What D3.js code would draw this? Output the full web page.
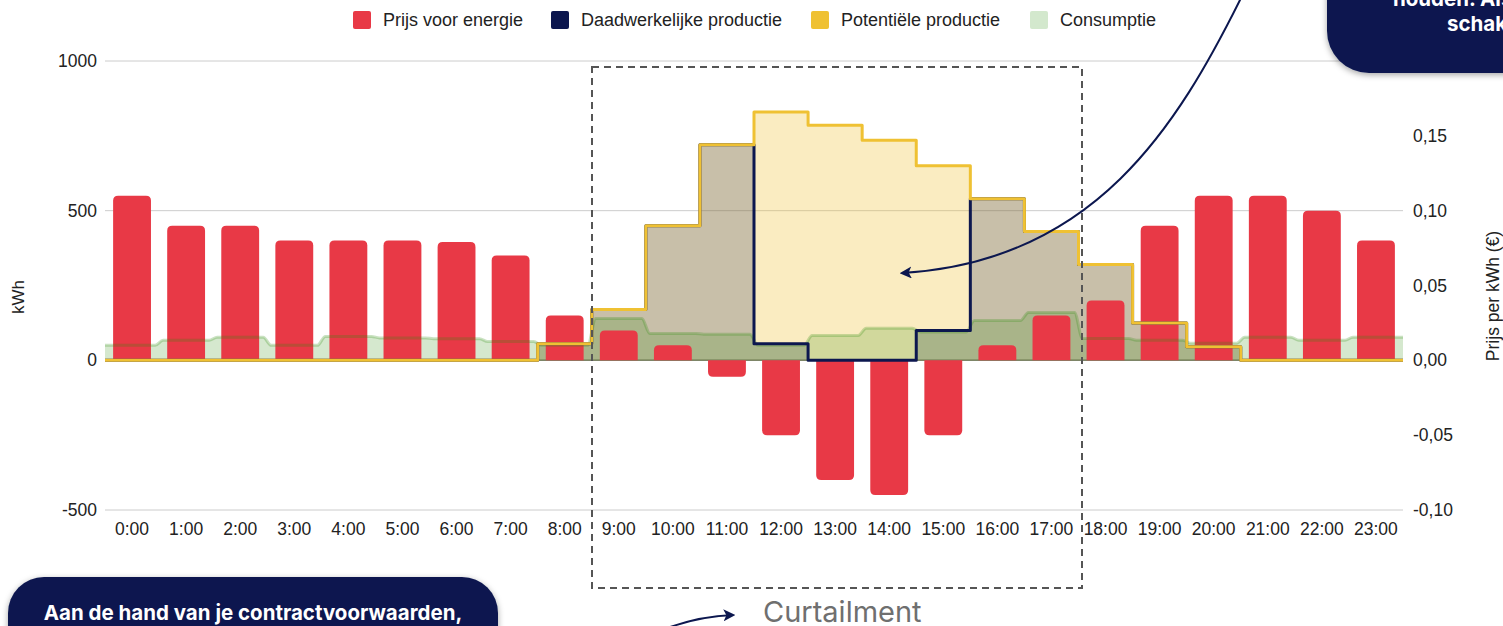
<!DOCTYPE html>
<html>
<head>
<meta charset="utf-8">
<script src="https://cdn.jsdelivr.net/npm/d3@7"></script>
<style>
  html, body { margin: 0; padding: 0; background: #fff; overflow: hidden; }
  svg { display: block; }
</style>
</head>
<body>
<svg id="chart" width="1503" height="626"></svg>
<script>
// ---------- DATA ----------
const hours = ["0:00","1:00","2:00","3:00","4:00","5:00","6:00","7:00","8:00","9:00","10:00","11:00",
               "12:00","13:00","14:00","15:00","16:00","17:00","18:00","19:00","20:00","21:00","22:00","23:00"];
const price = [0.11,0.09,0.09,0.08,0.08,0.08,0.079,0.07,0.03,0.02,0.01,-0.011,
               -0.05,-0.08,-0.09,-0.05,0.01,0.03,0.04,0.09,0.11,0.11,0.10,0.08];
const actualProduction = [0,0,0,0,0,0,0,0,55,170,450,720,55,0,0,100,540,430,320,125,45,0,0,0];
const potentialProduction = [0,0,0,0,0,0,0,0,55,170,450,720,830,785,735,650,540,430,320,125,45,0,0,0];
const consumption = [50,67,77,50,80,75,72,63,50,140,90,87,50,83,107,95,133,160,73,67,57,77,67,77];
const kwhTicks = [-500,0,500,1000];
const priceTicks = [-0.10,-0.05,0,0.05,0.10,0.15,0.20];
const legendItems = ["Prijs voor energie","Daadwerkelijke productie","Potentiële productie","Consumptie"];

// ---------- STYLE ----------
const RED = "#e83946", NAVY = "#0c174f", YELLOW = "#efc133", GREEN = "#2d8c0a";
const legendColors = [RED, NAVY, YELLOW, "#d3e8cd"];
const FONT = "'Liberation Sans', Arial, sans-serif";
const BOLD = "Inter, 'Open Sans', sans-serif";

const svg = d3.select("#chart");
const defs = svg.append("defs");
const sh = defs.append("filter").attr("id","shadow").attr("x","-20%").attr("y","-40%").attr("width","140%").attr("height","180%");
sh.append("feDropShadow").attr("dx",0).attr("dy",2).attr("stdDeviation",3).attr("flood-color","#000").attr("flood-opacity",0.35);
const arr = defs.append("marker").attr("id","arrowHead").attr("viewBox","0 0 10 10").attr("refX",8).attr("refY",5)
  .attr("markerWidth",6).attr("markerHeight",6).attr("orient","auto-start-reverse").attr("markerUnits","strokeWidth");
arr.append("path").attr("d","M0,0 L10,5 L0,10 L2.5,5 Z").attr("fill",NAVY);

const left = 105, right = 1403;
const x = d3.scaleBand().domain(hours).range([left, right]).paddingInner(0.3).paddingOuter(0.15);
const xe = d3.scaleLinear().domain([0, hours.length]).range([left, right]);
const y = d3.scaleLinear().domain([-500, 1000]).range([510, 61]);
const yp = d3.scaleLinear().domain([-0.10, 0.20]).range([510, 61]);

// gridlines
svg.append("g").selectAll("line").data(kwhTicks).join("line")
  .attr("x1", left).attr("x2", right).attr("y1", d => y(d)).attr("y2", d => y(d))
  .attr("stroke", "#cccccc").attr("stroke-width", 1);

// step helpers
function stepPts(vals) {
  const pts = vals.map((v, i) => [xe(i), v]);
  pts.push([xe(vals.length), vals[vals.length - 1]]);
  return pts;
}
function smoothPts(vals, e) {
  const pts = [];
  vals.forEach((v, i) => {
    pts.push([i === 0 ? xe(0) : xe(i) + e, v]);
    pts.push([i === vals.length - 1 ? xe(i + 1) : xe(i + 1) - e, v]);
  });
  return pts;
}
const stepArea = d3.area().x(d => d[0]).y0(y(0)).y1(d => y(d[1])).curve(d3.curveStepAfter);
const stepLine = d3.line().x(d => d[0]).y(d => y(d[1])).curve(d3.curveStepAfter);
const smArea = d3.area().x(d => d[0]).y0(y(0)).y1(d => y(d[1])).curve(d3.curveMonotoneX);
const smLine = d3.line().x(d => d[0]).y(d => y(d[1])).curve(d3.curveMonotoneX);

// areas
svg.append("path").attr("d", stepArea(stepPts(potentialProduction))).attr("fill", YELLOW).attr("fill-opacity", 0.3);
svg.append("path").attr("d", stepArea(stepPts(actualProduction))).attr("fill", NAVY).attr("fill-opacity", 0.21);
svg.append("path").attr("d", smArea(smoothPts(consumption, 4))).attr("fill", GREEN).attr("fill-opacity", 0.2);

// zero baseline
svg.append("line").attr("x1", left).attr("x2", right).attr("y1", y(0)).attr("y2", y(0))
  .attr("stroke", "#4f5a32").attr("stroke-opacity", 0.6).attr("stroke-width", 1.5);

// price bars with rounded outer corners
function barPath(d, i) {
  const x0 = x(hours[i]), w = x.bandwidth();
  const y0 = yp(0), y1 = yp(d);
  const r = Math.min(5, Math.abs(y1 - y0));
  if (d >= 0) {
    return `M${x0},${y0}V${y1 + r}Q${x0},${y1} ${x0 + r},${y1}H${x0 + w - r}Q${x0 + w},${y1} ${x0 + w},${y1 + r}V${y0}Z`;
  } else {
    return `M${x0},${y0}V${y1 - r}Q${x0},${y1} ${x0 + r},${y1}H${x0 + w - r}Q${x0 + w},${y1} ${x0 + w},${y1 - r}V${y0}Z`;
  }
}
svg.append("g").selectAll("path").data(price).join("path")
  .attr("d", (d, i) => barPath(d, i)).attr("fill", RED);

// lines
svg.append("path").attr("d", smLine(smoothPts(consumption, 4))).attr("fill", "none")
  .attr("stroke", GREEN).attr("stroke-opacity", 0.25).attr("stroke-width", 3);
svg.append("path").attr("d", stepLine(stepPts(actualProduction))).attr("fill", "none")
  .attr("stroke", NAVY).attr("stroke-width", 3).attr("stroke-linejoin", "round");
svg.append("path").attr("d", stepLine(stepPts(potentialProduction))).attr("fill", "none")
  .attr("stroke", YELLOW).attr("stroke-width", 3).attr("stroke-linejoin", "round");

// axes labels
svg.append("g").selectAll("text").data(kwhTicks).join("text")
  .attr("x", 97).attr("y", d => y(d)).attr("dy", "0.35em").attr("text-anchor", "end")
  .attr("font-family", FONT).attr("font-size", 17.5).attr("fill", "#222").text(d => d);
const fmtP = v => d3.format(".2f")(v).replace(".", ",").replace("−", "-");
svg.append("g").selectAll("text").data(priceTicks).join("text")
  .attr("x", 1413).attr("y", d => yp(d)).attr("dy", "0.35em").attr("text-anchor", "start")
  .attr("font-family", FONT).attr("font-size", 17.5).attr("fill", "#222").text(d => fmtP(d));
svg.append("g").selectAll("text").data(hours).join("text")
  .attr("x", d => x(d) + x.bandwidth() / 2).attr("y", 535).attr("text-anchor", "middle")
  .attr("font-family", FONT).attr("font-size", 17.5).attr("fill", "#222").text(d => d);
svg.append("text").attr("transform", "translate(24,297) rotate(-90)").attr("text-anchor", "middle")
  .attr("font-family", FONT).attr("font-size", 17).attr("fill", "#222").text("kWh");
svg.append("text").attr("transform", "translate(1499,296) rotate(-90)").attr("text-anchor", "middle")
  .attr("font-family", FONT).attr("font-size", 17.5).attr("fill", "#222").text("Prijs per kWh (€)");

// legend
const lgX = [353, 551, 811, 1030];
const lg = svg.append("g");
legendItems.forEach((t, i) => {
  lg.append("rect").attr("x", lgX[i]).attr("y", 11).attr("width", 18).attr("height", 18).attr("rx", 2).attr("fill", legendColors[i]);
  lg.append("text").attr("x", lgX[i] + 30).attr("y", 20).attr("dy", "0.35em")
    .attr("font-family", FONT).attr("font-size", 18).attr("fill", "#222").text(t);
});

// curtailment box
svg.append("rect").attr("x", 592).attr("y", 67).attr("width", 490).attr("height", 521)
  .attr("fill", "none").attr("stroke", "#555").attr("stroke-width", 2).attr("stroke-dasharray", "7,5");

// arrows
svg.append("path").attr("d", "M1242,-4 C1178,125 1095,262 902,273")
  .attr("fill", "none").attr("stroke", NAVY).attr("stroke-width", 2).attr("marker-end", "url(#arrowHead)");
svg.append("path").attr("d", "M652,634 C680,622 705,616 733,615")
  .attr("fill", "none").attr("stroke", NAVY).attr("stroke-width", 2).attr("marker-end", "url(#arrowHead)");
svg.append("text").attr("x", 763).attr("y", 622).attr("font-family", BOLD).attr("font-size", 29)
  .attr("fill", "#6f6f6f").text("Curtailment");

// dark callout boxes
svg.append("rect").attr("x", 1327).attr("y", -80).attr("width", 260).attr("height", 153).attr("rx", 42)
  .attr("fill", NAVY).attr("filter", "url(#shadow)");
svg.append("text").attr("x", 1393).attr("y", 6).attr("font-family", BOLD).attr("font-weight", 700)
  .attr("font-size", 20.5).attr("fill", "#fff").text("houden. Als");
svg.append("text").attr("x", 1447).attr("y", 31).attr("font-family", BOLD).attr("font-weight", 700)
  .attr("font-size", 20.5).attr("fill", "#fff").text("schakelen");

svg.append("rect").attr("x", 8).attr("y", 577).attr("width", 490).attr("height", 140).attr("rx", 36)
  .attr("fill", NAVY).attr("filter", "url(#shadow)");
svg.append("text").attr("x", 253).attr("y", 620).attr("text-anchor", "middle").attr("font-family", BOLD)
  .attr("font-weight", 700).attr("font-size", 20.5).attr("fill", "#fff").text("Aan de hand van je contractvoorwaarden,");
</script>
</body>
</html>
